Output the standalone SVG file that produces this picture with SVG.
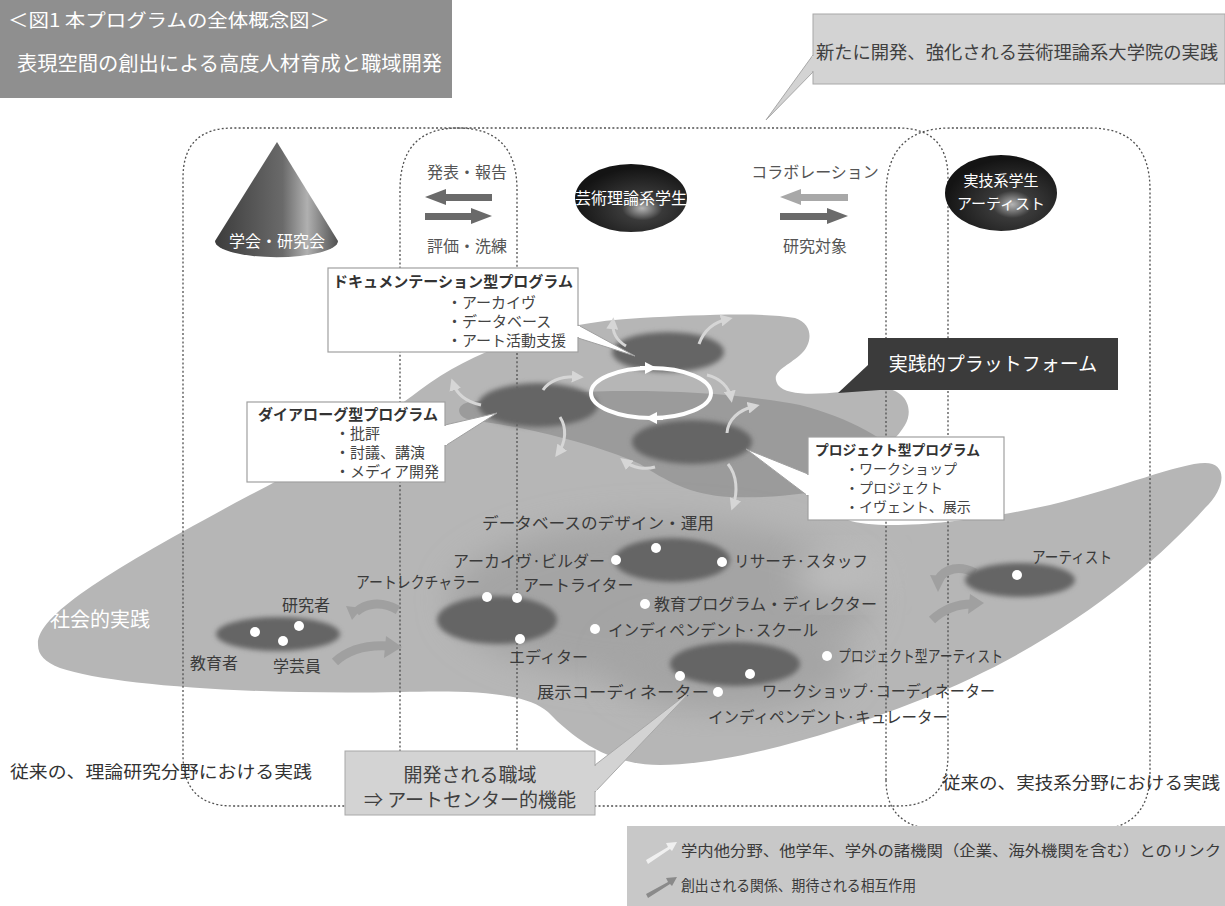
<svg xmlns="http://www.w3.org/2000/svg" width="1225" height="906" viewBox="0 0 1225 906">
<defs>
<style>
text{font-family:"Noto Sans CJK JP","Noto Sans",sans-serif;}
.lbl{font-size:16px;fill:#3a3a3a;}
.wt{fill:#ffffff;}
.it{font-size:15px;fill:#444;}
.dash{fill:none;stroke:#505050;stroke-width:1.3;stroke-dasharray:2 2.2;}
.box{fill:#ffffff;stroke:#a0a0a0;stroke-width:1.2;}
.dot{fill:#ffffff;}
.dk{fill:#656565;filter:url(#soft);}
.lt{fill:none;stroke:#d6d6d6;stroke-width:3;marker-end:url(#ah);}
.rel{fill:none;stroke:#a0a0a0;stroke-width:9;}
</style>
<filter id="soft" x="-20%" y="-40%" width="140%" height="180%"><feGaussianBlur stdDeviation="2.5"/></filter>
<filter id="halo" x="-30%" y="-30%" width="160%" height="160%"><feGaussianBlur stdDeviation="16"/></filter>
<linearGradient id="cone" x1="0" y1="0" x2="1" y2="0">
<stop offset="0" stop-color="#3c3c3c"/><stop offset="0.55" stop-color="#6a6a6a"/><stop offset="0.75" stop-color="#b0b0b0"/><stop offset="1" stop-color="#505050"/>
</linearGradient>
<radialGradient id="egg" cx="0.6" cy="0.65" r="0.6">
<stop offset="0" stop-color="#b5b5b5"/><stop offset="0.3" stop-color="#3a3a3a"/><stop offset="1" stop-color="#141414"/>
</radialGradient>
<marker id="ah" viewBox="0 0 10 10" refX="6" refY="5" markerWidth="4" markerHeight="4" orient="auto"><path d="M0,0 L10,5 L0,10 Z" fill="#d6d6d6"/></marker>
<marker id="wh" viewBox="0 0 10 10" refX="6" refY="5" markerWidth="3" markerHeight="3" orient="auto"><path d="M0,0 L10,5 L0,10 Z" fill="#ffffff"/></marker>
</defs>
<rect width="1225" height="906" fill="#ffffff"/>

<!-- title -->
<g id="title">
<rect x="0" y="0" width="452" height="98" fill="#8f8f8f"/>
<text x="8" y="27" font-size="18" class="wt" textLength="322" lengthAdjust="spacingAndGlyphs">＜図1 本プログラムの全体概念図＞</text>
<text x="17" y="71" font-size="20" class="wt" textLength="425" lengthAdjust="spacingAndGlyphs">表現空間の創出による高度人材育成と職域開発</text>
</g>

<!-- big blob (social + platform) -->
<g id="field">
<path d="M38,645 C36,615 110,570 250,495 C320,460 380,420 420,390 C480,345 560,322 640,318 C700,315 760,312 795,318 C815,325 812,345 800,355 C785,368 770,372 778,385 C790,400 840,392 875,388 C905,386 915,408 905,425 C890,450 860,465 835,478 C822,490 828,512 848,520 C875,530 960,525 1050,505 C1120,488 1180,463 1205,463 C1228,463 1226,488 1205,508 C1150,570 1050,650 920,700 C820,740 720,765 660,765 C610,765 575,740 548,712 C525,692 470,690 400,692 C250,695 110,685 60,668 C45,662 38,655 38,645 Z" fill="#b6b6b6"/>
<path d="M470,402 C560,388 700,386 800,405 C850,418 890,440 906,462 C880,482 800,500 730,497 C690,495 665,480 640,464 C590,442 520,426 470,420 C455,416 456,404 470,402 Z" fill="#9b9b9b"/>
<ellipse cx="660" cy="600" rx="210" ry="80" fill="#a4a4a4" filter="url(#halo)"/>
<ellipse cx="730" cy="665" rx="120" ry="45" fill="#a4a4a4" filter="url(#halo)"/>
<ellipse cx="840" cy="575" rx="45" ry="25" fill="#bdbdbd" filter="url(#halo)"/>
</g>

<!-- dashed regions -->
<g id="regions">
<path class="dash" d="M183,755 L183,178 Q183,128 233,128 L898,128 Q948,128 948,178 L948,755 Q948,806 898,806 L233,806 Q183,806 183,755 Z"/>
<path class="dash" d="M400,760 L400,190 Q400,128 458,128 Q517,128 517,190 L517,760"/>
<path class="dash" d="M886,780 L886,195 Q886,128 950,128 L1090,128 Q1150,128 1150,190 L1150,772 Q1150,830 1092,830 L944,830 Q886,830 886,780 Z"/>
</g>

<!-- top-right callout -->
<g id="callout-top">
<polygon points="813,55 766,120 813,72" fill="#d3d3d3" stroke="#a8a8a8" stroke-width="1"/>
<rect x="813" y="14" width="412" height="70" fill="#d3d3d3" stroke="#a8a8a8" stroke-width="1"/>
<rect x="812" y="56" width="3" height="15" fill="#d3d3d3"/>
<text x="816" y="59" font-size="18" fill="#404040" textLength="402" lengthAdjust="spacingAndGlyphs">新たに開発、強化される芸術理論系大学院の実践</text>
</g>

<!-- cone -->
<g id="gakkai">
<path d="M277,142 L215,241 A61,16 0 0 0 338,241 Z" fill="url(#cone)"/>
<text x="277" y="247" font-size="16" class="wt" text-anchor="middle">学会・研究会</text>
</g>

<g id="arrows-left">
<text x="467" y="178" font-size="16" fill="#555" text-anchor="middle">発表・報告</text>
<polygon points="425,197 446,189 446,194 492,194 492,201 446,201 446,205" fill="#6a6a6a"/>
<polygon points="492,216 471,208 471,213 425,213 425,220 471,220 471,224" fill="#6a6a6a"/>
<text x="467" y="252" font-size="16" fill="#555" text-anchor="middle">評価・洗練</text>
</g>

<g id="theory-students">
<ellipse cx="631" cy="198" rx="56" ry="34" fill="url(#egg)"/>
<text x="631" y="204" font-size="16" class="wt" text-anchor="middle">芸術理論系学生</text>
</g>

<g id="arrows-right">
<text x="815" y="178" font-size="16" fill="#555" text-anchor="middle">コラボレーション</text>
<polygon points="780,197 801,189 801,194 848,194 848,201 801,201 801,205" fill="#a8a8a8"/>
<polygon points="848,216 827,208 827,213 780,213 780,220 827,220 827,224" fill="#6a6a6a"/>
<text x="815" y="252" font-size="16" fill="#555" text-anchor="middle">研究対象</text>
</g>

<g id="art-students">
<ellipse cx="1001" cy="193" rx="56" ry="38" fill="url(#egg)"/>
<text x="1001" y="186" font-size="15" class="wt" text-anchor="middle">実技系学生</text>
<text x="1001" y="209" font-size="15" class="wt" text-anchor="middle">アーティスト</text>
</g>

<!-- platform ellipses -->
<g id="platform-nodes">
<ellipse class="dk" cx="668" cy="352" rx="56" ry="20"/>
<ellipse class="dk" cx="538" cy="405" rx="60" ry="22"/>
<ellipse class="dk" cx="692" cy="442" rx="60" ry="22"/>
<ellipse cx="651" cy="393" rx="60" ry="25" fill="none" stroke="#ffffff" stroke-width="4"/>
<path d="M640,368 L652,368" stroke="#fff" stroke-width="4" marker-end="url(#wh)"/>
<path d="M663,418 L650,418" stroke="#fff" stroke-width="4" marker-end="url(#wh)"/>
</g>

<g id="light-arrows">
<path class="lt" d="M626,346 C616,340 612,332 613,322"/>
<path class="lt" d="M699,344 C704,330 714,322 728,319"/>
<path class="lt" d="M707,375 C720,378 729,387 731,398"/>
<path class="lt" d="M727,433 C728,420 738,410 755,406"/>
<path class="lt" d="M655,467 C645,470 633,468 624,461"/>
<path class="lt" d="M728,464 C737,475 738,492 733,506"/>
<path class="lt" d="M481,405 C467,402 457,395 453,383"/>
<path class="lt" d="M543,390 C550,380 563,376 579,377"/>
<path class="lt" d="M560,417 C567,428 566,442 558,453"/>
</g>

<!-- callout boxes -->
<g id="doc-program">
<polygon points="578,325 635,356 578,338" fill="#fff" stroke="#a0a0a0"/>
<rect class="box" x="328" y="268" width="250" height="84"/>
<rect x="576" y="326" width="4" height="11" fill="#fff"/>
<text x="333" y="287" font-size="15" fill="#333" font-weight="bold" textLength="240" lengthAdjust="spacingAndGlyphs">ドキュメンテーション型プログラム</text>
<text x="447" y="308" class="it">・アーカイヴ</text>
<text x="447" y="327" class="it">・データベース</text>
<text x="447" y="346" class="it">・アート活動支援</text>
</g>

<g id="dialogue-program">
<polygon points="445,425 497,413 445,446" fill="#fff" stroke="#a0a0a0"/>
<rect class="box" x="247" y="402" width="198" height="80"/>
<rect x="443" y="426" width="4" height="19" fill="#fff"/>
<text x="258" y="420" font-size="15" fill="#333" font-weight="bold" textLength="180" lengthAdjust="spacingAndGlyphs">ダイアローグ型プログラム</text>
<text x="335" y="439" class="it">・批評</text>
<text x="335" y="458" class="it">・討議、講演</text>
<text x="335" y="477" class="it">・メディア開発</text>
</g>

<g id="project-program">
<polygon points="808,474 746,449 808,496" fill="#fff" stroke="#a0a0a0"/>
<rect class="box" x="808" y="437" width="196" height="83"/>
<rect x="806" y="475" width="4" height="20" fill="#fff"/>
<text x="815" y="455" font-size="14" fill="#333" font-weight="bold" textLength="165" lengthAdjust="spacingAndGlyphs">プロジェクト型プログラム</text>
<text x="845" y="474" font-size="14" fill="#444">・ワークショップ</text>
<text x="845" y="493" font-size="14" fill="#444">・プロジェクト</text>
<text x="845" y="512" font-size="14" fill="#444">・イヴェント、展示</text>
</g>

<g id="platform-label">
<polygon points="868,365 838,393 880,390" fill="#3b3b3b"/>
<rect x="868" y="338" width="250" height="52" fill="#3b3b3b"/>
<text x="993" y="371" font-size="19" class="wt" text-anchor="middle">実践的プラットフォーム</text>
</g>

<!-- social nodes -->
<g id="social">
<text x="50" y="627" font-size="20" class="wt">社会的実践</text>
<ellipse class="dk" cx="278" cy="634" rx="62" ry="17"/>
<circle class="dot" cx="255" cy="632" r="5"/><circle class="dot" cx="299" cy="626" r="5"/><circle class="dot" cx="283" cy="641" r="5"/>
<text x="282" y="611" class="lbl">研究者</text>
<text x="190" y="669" class="lbl">教育者</text>
<text x="273" y="672" class="lbl">学芸員</text>
</g>

<g id="relations">
<path class="rel" d="M335,662 C350,648 370,645 388,646"/>
<polygon points="386,636 402,647 384,658" fill="#a0a0a0"/>
<path class="rel" d="M398,610 C380,600 365,604 356,612"/>
<polygon points="346,606 352,620 362,608" fill="#a0a0a0"/>
<path class="rel" d="M975,573 C960,565 945,568 938,580"/>
<polygon points="930,575 938,592 946,576" fill="#a0a0a0"/>
<path class="rel" d="M932,620 C945,608 960,604 972,604"/>
<polygon points="970,594 984,603 968,614" fill="#a0a0a0"/>
</g>

<g id="mid-node">
<ellipse class="dk" cx="497" cy="620" rx="60" ry="24"/>
<circle class="dot" cx="487" cy="597" r="5"/><circle class="dot" cx="517" cy="598" r="5"/><circle class="dot" cx="520" cy="639" r="5"/>
<text x="356" y="588" class="lbl" textLength="124" lengthAdjust="spacingAndGlyphs">アートレクチャラー</text>
<text x="523" y="591" class="lbl">アートライター</text>
<text x="509" y="663" class="lbl">エディター</text>
</g>

<g id="db-node">
<ellipse class="dk" cx="672" cy="560" rx="58" ry="22"/>
<circle class="dot" cx="656" cy="548" r="5"/><circle class="dot" cx="616" cy="560" r="5"/><circle class="dot" cx="722" cy="562" r="5"/>
<text x="482" y="529" class="lbl" textLength="232" lengthAdjust="spacingAndGlyphs">データベースのデザイン・運用</text>
<text x="453" y="567" class="lbl" textLength="152" lengthAdjust="spacingAndGlyphs">アーカイヴ·ビルダー</text>
<text x="734" y="567" class="lbl" textLength="134" lengthAdjust="spacingAndGlyphs">リサーチ·スタッフ</text>
</g>

<g id="edu-nodes">
<circle class="dot" cx="645" cy="604" r="5"/>
<text x="654" y="610" class="lbl" textLength="223" lengthAdjust="spacingAndGlyphs">教育プログラム・ディレクター</text>
<circle class="dot" cx="595" cy="629" r="5"/>
<text x="608" y="636" class="lbl" textLength="210" lengthAdjust="spacingAndGlyphs">インディペンデント·スクール</text>
</g>

<g id="exhibit-node">
<ellipse class="dk" cx="735" cy="664" rx="65" ry="22"/>
<circle class="dot" cx="680" cy="676" r="5"/><circle class="dot" cx="750" cy="674" r="5"/><circle class="dot" cx="718" cy="692" r="5"/>
<text x="537" y="698" class="lbl" textLength="172" lengthAdjust="spacingAndGlyphs">展示コーディネーター</text>
<text x="762" y="697" class="lbl" textLength="233" lengthAdjust="spacingAndGlyphs">ワークショップ·コーディネーター</text>
<text x="708" y="723" class="lbl" textLength="240" lengthAdjust="spacingAndGlyphs">インディペンデント·キュレーター</text>
<circle class="dot" cx="827" cy="656" r="5"/>
<text x="838" y="662" class="lbl" textLength="165" lengthAdjust="spacingAndGlyphs">プロジェクト型アーティスト</text>
</g>

<g id="artist-node">
<ellipse class="dk" cx="1020" cy="580" rx="55" ry="17"/>
<circle class="dot" cx="1017" cy="575" r="5"/>
<text x="1032" y="563" class="lbl" textLength="80" lengthAdjust="spacingAndGlyphs">アーティスト</text>
</g>

<!-- bottom texts -->
<text x="10" y="778" font-size="17" fill="#333" textLength="302" lengthAdjust="spacingAndGlyphs">従来の、理論研究分野における実践</text>
<text x="942" y="789" font-size="17" fill="#333" textLength="278" lengthAdjust="spacingAndGlyphs">従来の、実技系分野における実践</text>

<g id="callout-bottom">
<polygon points="595,765 692,690 595,792" fill="#d3d3d3" stroke="#a8a8a8"/>
<rect x="345" y="751" width="250" height="64" fill="#d3d3d3" stroke="#a8a8a8"/>
<rect x="593" y="766" width="4" height="25" fill="#d3d3d3"/>
<text x="470" y="782" font-size="19" fill="#404040" text-anchor="middle">開発される職域</text>
<text x="470" y="807" font-size="19" fill="#404040" text-anchor="middle">⇒ アートセンター的機能</text>
</g>

<g id="legend">
<rect x="627" y="826" width="598" height="80" fill="#c8c8c8"/>
<polygon points="646,860 668,847 666,843 677,842 672,851 670,849 648,864" fill="#f0f0f0"/>
<text x="681" y="856" font-size="15" fill="#3a3a3a" textLength="540" lengthAdjust="spacingAndGlyphs">学内他分野、他学年、学外の諸機関（企業、海外機関を含む）とのリンク</text>
<polygon points="646,894 668,882 666,878 677,877 672,886 670,884 648,898" fill="#8a8a8a"/>
<text x="681" y="891" font-size="15" fill="#3a3a3a" textLength="235" lengthAdjust="spacingAndGlyphs">創出される関係、期待される相互作用</text>
</g>
</svg>
